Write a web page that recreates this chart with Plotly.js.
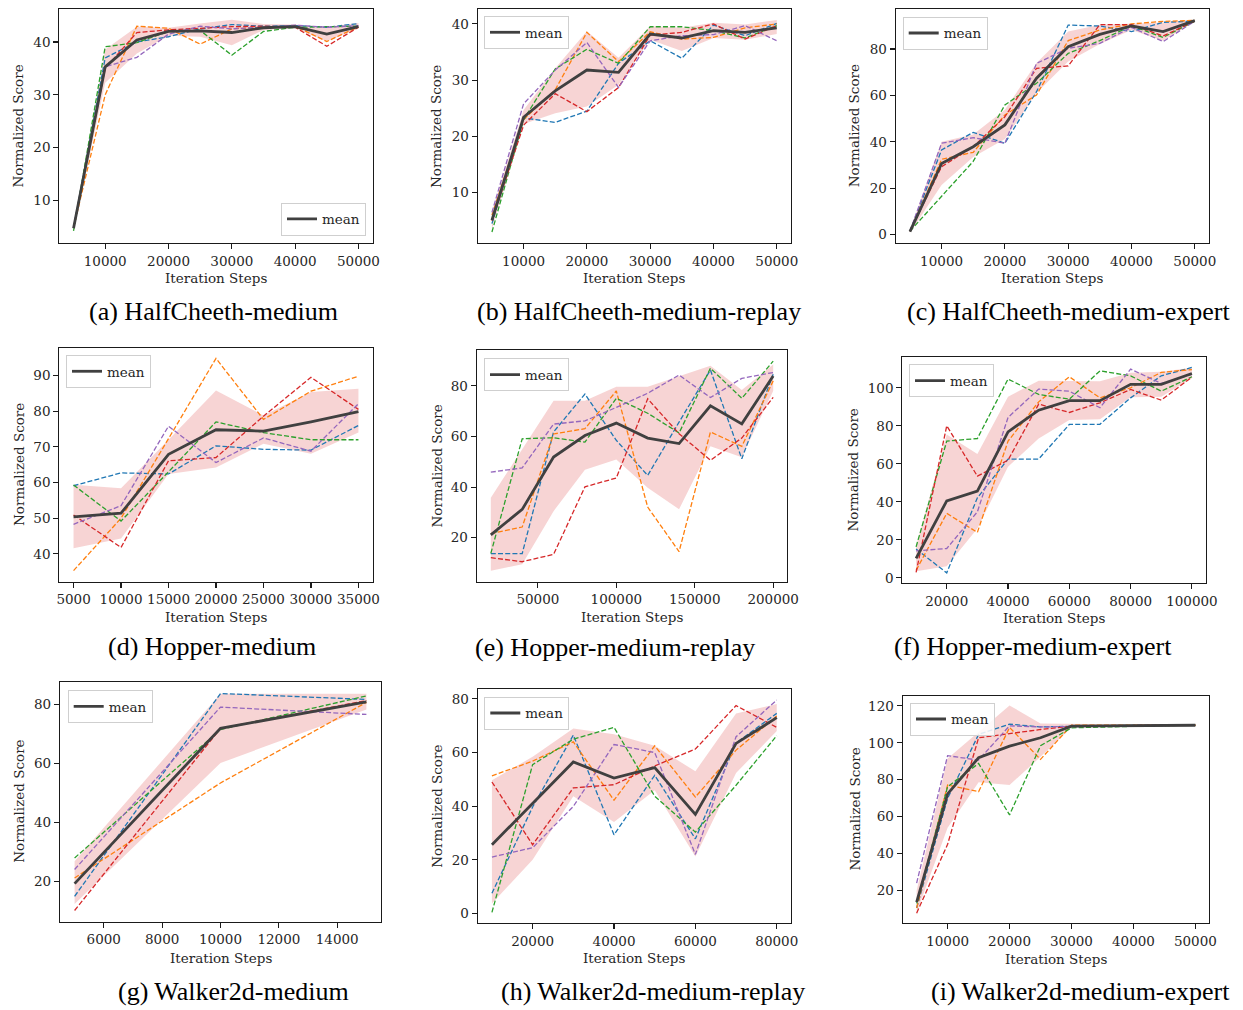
<!DOCTYPE html>
<html>
<head>
<meta charset="utf-8">
<script src="https://cdn.plot.ly/plotly-3.0.1.min.js"></script>
<style>
html,body{margin:0;padding:0;background:#fff;}
#chart{width:1243px;height:1010px;}
</style>
</head>
<body>
<div id="chart"></div>
<script>
// ---------------- DATA ----------------
const captions = ["(a) HalfCheeth-medium", "(b) HalfCheeth-medium-replay", "(c) HalfCheeth-medium-expert",
                  "(d) Hopper-medium", "(e) Hopper-medium-replay", "(f) Hopper-medium-expert",
                  "(g) Walker2d-medium", "(h) Walker2d-medium-replay", "(i) Walker2d-medium-expert"];
const xTitle = "Iteration Steps";
const yTitle = "Normalized Score";
const legendLabel = "mean";

// (a) HalfCheeth-medium
const A_steps  = [5000, 10000, 15000, 20000, 25000, 30000, 35000, 40000, 45000, 50000];
const A_blue   = [4.8, 37.0, 40.0, 41.0, 42.5, 43.3, 43.0, 43.1, 42.8, 43.5];
const A_orange = [4.8, 30.0, 43.0, 42.6, 39.6, 42.5, 42.8, 43.0, 40.1, 42.9];
const A_green  = [4.2, 39.1, 39.9, 42.0, 42.2, 37.5, 42.0, 42.8, 42.9, 43.0];
const A_red    = [4.8, 35.0, 41.8, 42.3, 42.6, 42.9, 43.0, 42.8, 39.2, 42.8];
const A_purple = [4.8, 35.3, 37.1, 41.5, 43.0, 42.5, 42.8, 43.2, 42.8, 43.1];
const A_mean   = [4.7, 35.3, 40.4, 42.0, 42.1, 41.8, 42.7, 42.9, 41.5, 42.9];
const A_low    = [4.2, 32.3, 37.8, 41.2, 41.0, 39.4, 42.3, 42.6, 40.1, 42.6];
const A_high   = [5.3, 38.6, 42.9, 42.7, 43.5, 44.2, 43.4, 43.3, 42.9, 43.6];

// (b) HalfCheeth-medium-replay
const B_steps  = [5000, 10000, 15000, 20000, 25000, 30000, 35000, 40000, 45000, 50000];
const B_blue   = [4.5, 23.3, 22.5, 24.5, 33.0, 37.0, 33.9, 39.8, 37.9, 40.1];
const B_orange = [6.0, 23.0, 28.3, 38.5, 33.3, 38.6, 37.3, 37.6, 39.3, 40.0];
const B_green  = [3.0, 23.0, 32.0, 35.5, 33.0, 39.5, 39.5, 38.8, 37.5, 39.7];
const B_red    = [5.0, 22.0, 27.6, 24.4, 28.7, 38.0, 38.5, 40.0, 37.3, 39.7];
const B_purple = [6.5, 25.8, 31.8, 36.7, 28.7, 37.0, 37.9, 38.1, 39.7, 37.0];
const B_mean   = [5.1, 23.4, 28.1, 31.8, 31.4, 38.2, 37.5, 38.8, 38.5, 39.3];
const B_low    = [3.6, 22.2, 24.1, 25.3, 29.2, 37.2, 35.2, 37.5, 37.2, 38.2];
const B_high   = [6.6, 24.7, 32.1, 38.7, 34.0, 39.6, 39.3, 40.2, 39.9, 40.7];

// (c) HalfCheeth-medium-expert
const C_steps  = [5000, 10000, 15000, 20000, 25000, 30000, 35000, 40000, 45000, 50000];
const C_blue   = [1.5, 36.5, 44.1, 39.4, 61.6, 90.3, 89.9, 87.5, 91.5, 92.0];
const C_orange = [1.5, 32.5, 35.5, 51.6, 60.2, 83.6, 88.2, 90.8, 91.9, 92.3];
const C_green  = [1.5, 16.4, 31.6, 55.9, 65.2, 78.1, 83.6, 90.0, 85.0, 92.0];
const C_red    = [1.5, 29.3, 37.9, 50.8, 71.7, 72.7, 90.5, 90.5, 85.6, 92.0];
const C_purple = [1.5, 39.4, 41.8, 39.4, 73.8, 80.3, 82.4, 89.3, 83.2, 92.0];
const C_mean   = [1.3, 30.7, 37.9, 47.3, 67.4, 81.0, 86.3, 89.9, 87.5, 92.2];
const C_low    = [0.8, 21.4, 33.5, 41.2, 61.0, 74.6, 82.2, 88.2, 83.6, 91.8];
const C_high   = [2.0, 40.0, 43.2, 53.8, 74.0, 87.5, 90.4, 91.0, 91.4, 92.6];

// (d) Hopper-medium
const D_steps  = [5000, 10000, 15000, 20000, 25000, 30000, 35000];
const D_blue   = [59.1, 62.7, 62.4, 70.3, 69.3, 69.1, 76.0];
const D_orange = [35.3, 50.0, 72.3, 94.8, 77.7, 85.6, 89.8];
const D_green  = [59.3, 49.2, 63.0, 77.0, 74.0, 72.0, 72.0];
const D_red    = [50.9, 41.8, 66.1, 67.0, 78.6, 89.5, 80.5];
const D_purple = [48.3, 53.5, 75.8, 65.6, 72.5, 68.8, 82.1];
const D_mean   = [50.4, 51.4, 67.9, 74.8, 74.4, 77.0, 79.9];
const D_low    = [41.6, 44.3, 62.4, 64.2, 70.9, 68.1, 74.0];
const D_high   = [59.4, 58.4, 72.0, 85.8, 78.8, 85.4, 86.3];

// (e) Hopper-medium-replay
const E_steps  = [20000, 40000, 60000, 80000, 100000, 120000, 140000, 160000, 180000, 200000];
const E_blue   = [13.7, 13.7, 61.8, 76.8, 58.5, 44.6, 65.7, 86.3, 51.2, 84.6];
const E_orange = [21.6, 24.2, 61.0, 63.1, 78.0, 32.1, 14.5, 61.8, 56.1, 82.0];
const E_green  = [13.8, 59.1, 59.5, 57.8, 75.1, 69.2, 61.4, 87.0, 75.1, 89.8];
const E_red    = [12.1, 10.5, 13.4, 40.1, 43.6, 74.9, 61.1, 50.6, 59.4, 75.5];
const E_purple = [45.9, 47.6, 64.9, 66.2, 71.5, 77.1, 84.3, 75.4, 83.0, 85.3];
const E_mean   = [21.1, 31.2, 51.9, 60.4, 65.3, 59.4, 57.2, 72.1, 65.0, 83.9];
const E_low    = [6.9, 9.5, 30.5, 46.9, 50.9, 39.7, 31.2, 56.1, 51.8, 78.0];
const E_high   = [35.8, 54.8, 74.1, 74.1, 79.7, 79.7, 83.7, 88.0, 78.4, 88.5];

// (f) Hopper-medium-expert
const F_steps  = [10000, 20000, 30000, 40000, 50000, 60000, 70000, 80000, 90000, 100000];
const F_blue   = [15.1, 2.6, 42.1, 62.5, 62.5, 80.7, 80.8, 94.7, 106.3, 110.7];
const F_orange = [3.9, 33.9, 23.9, 71.9, 92.6, 105.8, 94.7, 100.0, 108.1, 109.6];
const F_green  = [16.3, 71.9, 73.3, 104.6, 96.5, 94.0, 108.9, 106.3, 98.2, 105.8];
const F_red    = [2.8, 80.0, 53.5, 61.9, 91.4, 87.0, 92.1, 99.1, 93.5, 105.6];
const F_purple = [14.2, 15.4, 34.7, 84.4, 99.3, 98.2, 89.5, 109.8, 102.3, 107.0];
const F_mean   = [10.2, 40.5, 45.6, 76.8, 88.2, 93.2, 93.2, 101.8, 101.8, 107.5];
const F_low    = [3.5, 6.1, 26.0, 58.4, 73.3, 83.0, 83.5, 95.0, 95.3, 105.0];
const F_high   = [16.7, 75.4, 65.1, 95.3, 103.7, 103.7, 103.5, 107.9, 108.4, 110.5];

// (g) Walker2d-medium
const G_steps  = [5000, 10000, 15000];
const G_blue   = [14.9, 83.6, 81.6];
const G_orange = [21.1, 53.3, 80.6];
const G_green  = [27.9, 71.4, 82.8];
const G_red    = [10.1, 71.8, 81.2];
const G_purple = [24.0, 79.0, 76.5];
const G_mean   = [19.2, 71.8, 80.8];
const G_low    = [12.3, 60.1, 78.2];
const G_high   = [26.8, 83.5, 83.5];

// (h) Walker2d-medium-replay
const H_steps  = [10000, 20000, 30000, 40000, 50000, 60000, 70000, 80000];
const H_blue   = [7.5, 39.7, 66.5, 29.3, 51.5, 27.8, 63.6, 74.6];
const H_orange = [51.3, 56.8, 64.0, 42.2, 62.5, 43.4, 60.9, 73.6];
const H_green  = [0.4, 55.5, 65.0, 69.4, 43.7, 30.3, 47.8, 66.3];
const H_red    = [49.0, 25.6, 46.8, 48.0, 55.0, 61.3, 77.5, 69.4];
const H_purple = [21.0, 24.5, 39.9, 63.0, 60.0, 22.0, 65.9, 79.6];
const H_mean   = [25.6, 40.9, 56.5, 50.5, 54.4, 36.9, 63.4, 73.0];
const H_low    = [3.7, 20.0, 43.7, 34.1, 45.9, 21.2, 52.4, 68.0];
const H_high   = [49.7, 58.4, 69.0, 66.8, 62.5, 53.0, 74.6, 78.1];

// (i) Walker2d-medium-expert
const I_steps  = [5000, 10000, 15000, 20000, 25000, 30000, 35000, 40000, 45000, 50000];
const I_blue   = [10.5, 69.9, 104.5, 110.1, 108.6, 109.0, 109.3, 109.5, 109.5, 109.5];
const I_orange = [10.5, 77.1, 73.5, 108.3, 91.0, 109.5, 109.5, 109.5, 109.5, 109.5];
const I_green  = [13.0, 76.2, 88.8, 60.9, 98.4, 108.1, 108.5, 109.0, 109.3, 109.5];
const I_red    = [7.7, 45.0, 102.7, 105.0, 107.2, 109.0, 109.3, 109.5, 109.5, 109.5];
const I_purple = [24.0, 93.0, 90.6, 109.2, 108.6, 108.8, 109.2, 109.4, 109.5, 109.5];
const I_mean   = [13.7, 72.3, 91.9, 98.2, 102.7, 109.0, 109.2, 109.3, 109.4, 109.5];
const I_low    = [8.0, 54.0, 78.6, 77.1, 92.4, 108.3, 108.6, 108.8, 108.9, 109.1];
const I_high   = [20.0, 91.5, 105.9, 120.2, 110.5, 110.2, 109.9, 109.9, 109.9, 110.0];

const panelData = [
  {steps: A_steps, runs: [A_blue, A_orange, A_green, A_red, A_purple], mean: A_mean, low: A_low, high: A_high},
  {steps: B_steps, runs: [B_blue, B_orange, B_green, B_red, B_purple], mean: B_mean, low: B_low, high: B_high},
  {steps: C_steps, runs: [C_blue, C_orange, C_green, C_red, C_purple], mean: C_mean, low: C_low, high: C_high},
  {steps: D_steps, runs: [D_blue, D_orange, D_green, D_red, D_purple], mean: D_mean, low: D_low, high: D_high},
  {steps: E_steps, runs: [E_blue, E_orange, E_green, E_red, E_purple], mean: E_mean, low: E_low, high: E_high},
  {steps: F_steps, runs: [F_blue, F_orange, F_green, F_red, F_purple], mean: F_mean, low: F_low, high: F_high},
  {steps: G_steps, runs: [G_blue, G_orange, G_green, G_red, G_purple], mean: G_mean, low: G_low, high: G_high},
  {steps: H_steps, runs: [H_blue, H_orange, H_green, H_red, H_purple], mean: H_mean, low: H_low, high: H_high},
  {steps: I_steps, runs: [I_blue, I_orange, I_green, I_red, I_purple], mean: I_mean, low: I_low, high: I_high}
];

// ---------------- LAYOUT (pixel geometry, styles) ----------------
const W = 1243, H = 1010;
// plot frames [left, top, right, bottom] in px
const frames = [
  [59.3, 9.3, 372.7, 243.3], [477.7, 9.3, 791, 243.3], [895.7, 9.3, 1209, 243.3],
  [59.3, 347.7, 372.7, 581.7], [476.7, 350, 787.3, 581.7], [902.3, 357, 1205.7, 583.3],
  [60, 681.7, 381, 921.7], [477.7, 689, 791, 923.3], [902.7, 695.7, 1209.3, 923.3]
];
const axisSpec = [
  {xr: [2750, 52250], xd: 10000, yr: [1.85, 46.2], yd: 10},
  {xr: [2750, 52250], xd: 10000, yr: [1.0, 42.6], yd: 10},
  {xr: [2750, 52250], xd: 10000, yr: [-3.7, 97.1], yd: 20},
  {xr: [3500, 36500], xd: 5000, yr: [32.2, 97.8], yd: 10},
  {xr: [11000, 209000], xd: 50000, yr: [2.6, 94.2], yd: 20},
  {xr: [5500, 104500], xd: 20000, yr: [-2.9, 116.2], yd: 20},
  {xr: [4500, 15500], xd: 2000, yr: [6.3, 87.6], yd: 20},
  {xr: [6500, 83500], xd: 20000, yr: [-3.7, 83.7], yd: 20},
  {xr: [2750, 52250], xd: 10000, yr: [2.2, 125.5], yd: 20}
];
const yTitleX = [18.3, 436.7, 854, 18.3, 436.7, 853.3, 19, 436.7, 854];
const xTitleY = [278.3, 278.3, 278.3, 616.7, 616.7, 617.7, 958.3, 958.3, 959];
const captionPos = [[213, 311], [638.5, 311.7], [1068.5, 311.7], [212, 646.7], [614.7, 647], [1032.5, 646],
                    [233.3, 991.7], [652.7, 991.7], [1080.7, 991.7]];
// legend corners: [x, y, xanchor, yanchor]
const legendPos = [[366, 235.7, 'right', 'bottom'], [484, 16, 'left', 'top'], [902.7, 16.7, 'left', 'top'],
                   [66, 355, 'left', 'top'], [484, 358.3, 'left', 'top'], [909, 364.3, 'left', 'top'],
                   [67.7, 690, 'left', 'top'], [484.3, 696.7, 'left', 'top'], [910, 702.7, 'left', 'top']];

const runColors = ['#1f77b4', '#ff7f0e', '#2ca02c', '#d62728', '#9467bd'];
const textColor = '#262626';
const tickFont = {family: 'DejaVu Serif', size: 13.5, color: textColor};

const axisStyle = {
  showline: true, mirror: true, linecolor: '#1a1a1a', linewidth: 1.1,
  ticks: 'outside', ticklen: 5, tickwidth: 1.1, tickcolor: '#1a1a1a',
  showgrid: false, zeroline: false, tickformat: 'd', tickfont: tickFont, fixedrange: true
};

const traces = [];
const layout = {
  width: W, height: H, margin: {l: 0, r: 0, t: 0, b: 0},
  paper_bgcolor: '#ffffff', plot_bgcolor: '#ffffff',
  showlegend: true, annotations: [], hovermode: false
};

panelData.forEach((p, i) => {
  const n = i === 0 ? '' : String(i + 1);
  const xa = 'x' + n, ya = 'y' + n;
  const f = frames[i], s = axisSpec[i];
  layout['xaxis' + n] = Object.assign({}, axisStyle, {
    domain: [f[0] / W, f[2] / W], anchor: ya, range: s.xr, tick0: 0, dtick: s.xd
  });
  layout['yaxis' + n] = Object.assign({}, axisStyle, {
    domain: [1 - f[3] / H, 1 - f[1] / H], anchor: xa, range: s.yr, tick0: 0, dtick: s.yd
  });
  const lg = i === 0 ? 'legend' : 'legend' + (i + 1);

  traces.push({x: p.steps, y: p.low, xaxis: xa, yaxis: ya, mode: 'lines',
               line: {width: 0, color: 'rgba(0,0,0,0)'}, showlegend: false, hoverinfo: 'skip'});
  traces.push({x: p.steps, y: p.high, xaxis: xa, yaxis: ya, mode: 'lines',
               line: {width: 0, color: 'rgba(0,0,0,0)'}, fill: 'tonexty',
               fillcolor: 'rgba(214,39,40,0.2)', showlegend: false, hoverinfo: 'skip'});
  p.runs.forEach((r, k) => {
    traces.push({x: p.steps, y: r, xaxis: xa, yaxis: ya, mode: 'lines',
                 line: {color: runColors[k], width: 1.3, dash: '5px,2.2px'}, showlegend: false});
  });
  traces.push({x: p.steps, y: p.mean, xaxis: xa, yaxis: ya, mode: 'lines', name: legendLabel,
               line: {color: '#404040', width: 2.8}, legend: lg, showlegend: true});

  const lp = legendPos[i];
  layout[lg] = {
    x: lp[0] / W, y: 1 - lp[1] / H, xref: 'paper', yref: 'paper', xanchor: lp[2], yanchor: lp[3],
    bgcolor: 'rgba(255,255,255,0.85)', bordercolor: '#cfcfcf', borderwidth: 1,
    font: {family: 'DejaVu Serif', size: 13.5, color: textColor}, itemwidth: 30, tracegroupgap: 0
  };

  // axis titles
  layout.annotations.push({
    text: yTitle, xref: 'paper', yref: 'paper', x: yTitleX[i] / W, y: 1 - ((f[1] + f[3]) / 2) / H,
    xanchor: 'center', yanchor: 'middle', textangle: -90, showarrow: false, font: tickFont
  });
  layout.annotations.push({
    text: xTitle, xref: 'paper', yref: 'paper', x: ((f[0] + f[2]) / 2) / W, y: 1 - xTitleY[i] / H,
    xanchor: 'center', yanchor: 'middle', showarrow: false, font: tickFont
  });
  // caption
  layout.annotations.push({
    text: captions[i], xref: 'paper', yref: 'paper', x: captionPos[i][0] / W, y: 1 - captionPos[i][1] / H,
    xanchor: 'center', yanchor: 'middle', showarrow: false,
    font: {family: 'Liberation Serif', size: 26, color: '#000000'}
  });
});

Plotly.newPlot('chart', traces, layout, {displayModeBar: false, staticPlot: true});
</script>
</body>
</html>
